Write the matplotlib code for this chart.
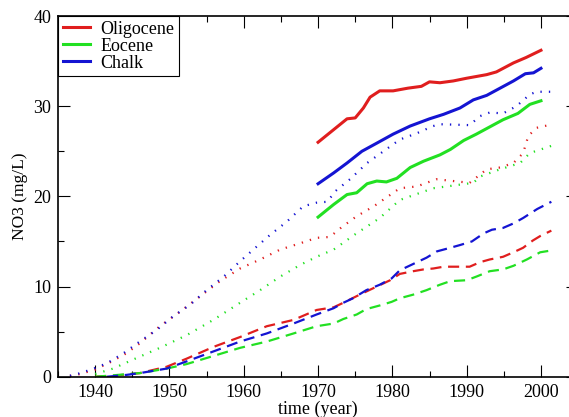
import matplotlib
matplotlib.use("Agg")
import matplotlib.pyplot as plt
from matplotlib.ticker import MultipleLocator

plt.rcParams['font.family'] = ['Liberation Serif', 'DejaVu Serif']

RED = '#e01e1e'
GREEN = '#22e022'
BLUE = '#1414d2'

# solid lines (1970-2000)
oligo_yr = [1970, 1972.1, 1973.9, 1975, 1976.1, 1977, 1978.3, 1980.1, 1982.1, 1983.9,
            1985, 1986.4, 1988.2, 1990, 1992.7, 1994, 1996.3, 1998, 2000]
oligo_val = [26.0, 27.4, 28.6, 28.7, 29.8, 31.0, 31.7, 31.7, 32.0, 32.2,
             32.7, 32.6, 32.8, 33.1, 33.5, 33.8, 34.8, 35.4, 36.2]

eoc_yr = [1970, 1972.1, 1973.9, 1975.2, 1976.6, 1977.9, 1979.2, 1980.6, 1982.4, 1984.2,
          1986.4, 1987.8, 1989.6, 1991.3, 1993.1, 1994.9, 1996.9, 1998.5, 2000]
eoc_val = [17.7, 19.1, 20.2, 20.4, 21.4, 21.7, 21.6, 22.0, 23.2, 23.9,
           24.6, 25.2, 26.2, 26.9, 27.7, 28.5, 29.2, 30.2, 30.6]

chalk_yr = [1970, 1972.1, 1973.9, 1975.9, 1977.9, 1980.1, 1982.4, 1985, 1986.9, 1989.1,
            1990.9, 1992.7, 1994.5, 1996.3, 1997.9, 1999, 2000]
chalk_val = [21.4, 22.6, 23.7, 25.0, 25.9, 26.9, 27.8, 28.6, 29.1, 29.8,
             30.7, 31.2, 32.0, 32.8, 33.6, 33.7, 34.2]

# dotted lines
oligo_dot_yr = [1936.6, 1938, 1940, 1942, 1944.2, 1946, 1948.7, 1951.4, 1954.1, 1956.8,
                1959.5, 1962.2, 1964.9, 1967.6, 1969.8, 1971.6, 1973.2, 1975.2, 1977.5, 1981,
                1983.3, 1985.9, 1988.2, 1990.4, 1992.7, 1994.5, 1996.3, 1997.6, 1998.3, 1999.4,
                2001.6]
oligo_dot_val = [0.1, 0.3, 0.8, 1.6, 2.6, 3.7, 5.6, 7.2, 8.9, 10.6,
                 12.0, 13.0, 14.1, 14.8, 15.4, 15.5, 16.6, 17.8, 18.9, 20.9,
                 21.1, 21.9, 21.7, 21.5, 23.0, 23.2, 23.7, 24.8, 26.7, 27.6,
                 28.0]

eoc_dot_yr = [1940, 1942.4, 1945.1, 1948.7, 1952.3, 1955.9, 1959.5, 1962.2, 1964.9, 1967.6,
              1969.8, 1972.1, 1975, 1978.3, 1981, 1985.5, 1990.9, 1991.8, 1994.5, 1997.2,
              1998.5, 2001.4]
eoc_dot_val = [0.3, 0.9, 1.9, 3.2, 4.6, 6.3, 8.2, 9.6, 11.1, 12.4,
               13.3, 14.1, 15.8, 17.6, 19.6, 20.9, 21.5, 22.2, 23.0, 23.7,
               24.8, 25.6]

chalk_dot_yr = [1936.6, 1938, 1939.8, 1941.6, 1943.8, 1946, 1948.3, 1950.5, 1952.8, 1955,
                1957.3, 1959.5, 1961.7, 1963.5, 1965.8, 1968, 1969.8, 1971.2, 1972.5, 1974.3,
                1976.6, 1978.8, 1981, 1983.3, 1985.5, 1986.4, 1990.4, 1991.8, 1993.1, 1994.9,
                1996.7, 1998.5, 1999.4, 2001.4]
chalk_dot_val = [0.1, 0.4, 0.9, 1.5, 2.6, 3.9, 5.2, 6.7, 8.0, 9.6,
                 11.1, 12.8, 14.4, 15.7, 17.2, 18.9, 19.3, 19.4, 20.7, 21.9,
                 23.7, 25.0, 26.3, 27.0, 27.8, 28.0, 27.9, 28.9, 29.3, 29.2,
                 30.0, 31.3, 31.6, 31.6]

# dashed lines
oligo_dash_yr = [1940, 1942.4, 1946, 1949.6, 1952.3, 1955.9, 1959.5, 1963.1, 1966.7, 1969.8,
                 1972.1, 1973.4, 1975.6, 1977.9, 1979.7, 1981, 1982.8, 1984.2, 1985.5, 1986.9,
                 1988.7, 1990.4, 1991.8, 1993.1, 1994.9, 1996.3, 1997.6, 1998.9, 1999.9, 2001.4]
oligo_dash_val = [0.0, 0.1, 0.4, 1.1, 2.0, 3.3, 4.4, 5.6, 6.3, 7.4,
                  7.7, 8.2, 9.1, 10.0, 10.7, 11.4, 11.7, 11.9, 12.0, 12.2,
                  12.2, 12.2, 12.7, 13.0, 13.3, 13.8, 14.3, 15.1, 15.6, 16.2]

eoc_dash_yr = [1940, 1941.6, 1946, 1949.6, 1952.3, 1955.9, 1959.5, 1963.1, 1966.7, 1969.8,
               1972.1, 1973.4, 1975.2, 1976.5, 1978.3, 1979.9, 1981, 1982.8, 1984.6, 1986.4,
               1987.8, 1990, 1991.3, 1993.1, 1994.9, 1996.3, 1998.1, 1999.9, 2001.4]
eoc_dash_val = [0.0, 0.1, 0.4, 0.9, 1.4, 2.3, 3.2, 3.9, 4.8, 5.6,
                5.9, 6.4, 6.9, 7.5, 7.9, 8.3, 8.7, 9.1, 9.6, 10.2,
                10.6, 10.7, 11.1, 11.7, 11.9, 12.3, 13.0, 13.8, 14.0]

chalk_dash_yr = [1941.6, 1944.2, 1946, 1949.6, 1952.3, 1955.9, 1959.5, 1963.1, 1966.7, 1969.8,
                 1972.1, 1973.4, 1974.7, 1976.5, 1978.3, 1979.9, 1981, 1982.8, 1984.6, 1986,
                 1987.8, 1989.1, 1990.7, 1992.3, 1993.4, 1994.9, 1996.3, 1997.6, 1999.5, 2001.4]
chalk_dash_val = [0.0, 0.2, 0.4, 0.9, 1.7, 2.8, 3.9, 4.8, 5.9, 6.9,
                  7.6, 8.2, 8.7, 9.6, 10.2, 10.9, 11.8, 12.5, 13.2, 13.9,
                  14.3, 14.6, 15.0, 15.9, 16.3, 16.5, 17.0, 17.6, 18.6, 19.4]

fig = plt.figure(figsize=(5.69, 4.17), dpi=100)
# right spine sits just past the figure edge, like the cropped original
ax = fig.add_axes([0.102, 0.0966, 0.914, 0.865])

# dotted + dashed first, solid on top
ax.plot(oligo_dot_yr, oligo_dot_val, color=RED, lw=1.6, linestyle=(0, (0.6, 3.2)))
ax.plot(eoc_dot_yr, eoc_dot_val, color=GREEN, lw=1.6, linestyle=(0, (0.6, 3.2)))
ax.plot(chalk_dot_yr, chalk_dot_val, color=BLUE, lw=1.6, linestyle=(0, (0.6, 3.2)))

ax.plot(oligo_dash_yr, oligo_dash_val, color=RED, lw=1.6, linestyle=(0, (5, 3)))
ax.plot(eoc_dash_yr, eoc_dash_val, color=GREEN, lw=1.6, linestyle=(0, (5, 3)))
ax.plot(chalk_dash_yr, chalk_dash_val, color=BLUE, lw=1.6, linestyle=(0, (5, 3)))

ax.plot(oligo_yr, oligo_val, color=RED, lw=2.2, label='Oligocene')
ax.plot(eoc_yr, eoc_val, color=GREEN, lw=2.2, label='Eocene')
ax.plot(chalk_yr, chalk_val, color=BLUE, lw=2.2, label='Chalk')

ax.set_xlim(1935, 2005)
ax.set_ylim(0, 40)
ax.xaxis.set_major_locator(MultipleLocator(10))
ax.xaxis.set_minor_locator(MultipleLocator(5))
ax.yaxis.set_major_locator(MultipleLocator(10))
ax.yaxis.set_minor_locator(MultipleLocator(5))
ax.tick_params(which='both', direction='in', top=True, right=True, labelsize=13)
ax.tick_params(which='major', length=8.5, width=0.8)
ax.tick_params(which='minor', length=4, width=0.8)
ax.tick_params(axis='x', pad=5)
ax.tick_params(axis='y', pad=5)
for s in ax.spines.values():
    s.set_linewidth(1.2)

ax.set_xlabel('time (year)', fontsize=13, labelpad=0)
ax.set_ylabel('NO3 (mg/L)', fontsize=12.5, labelpad=4)

leg = ax.legend(loc='upper left', fontsize=13, frameon=True, fancybox=False,
                edgecolor='black', framealpha=1, borderaxespad=0, handlelength=1.5,
                handletextpad=0.6, labelspacing=0.0, borderpad=0.25)
leg.get_frame().set_linewidth(0.8)

fig.savefig('out.png', dpi=100)
